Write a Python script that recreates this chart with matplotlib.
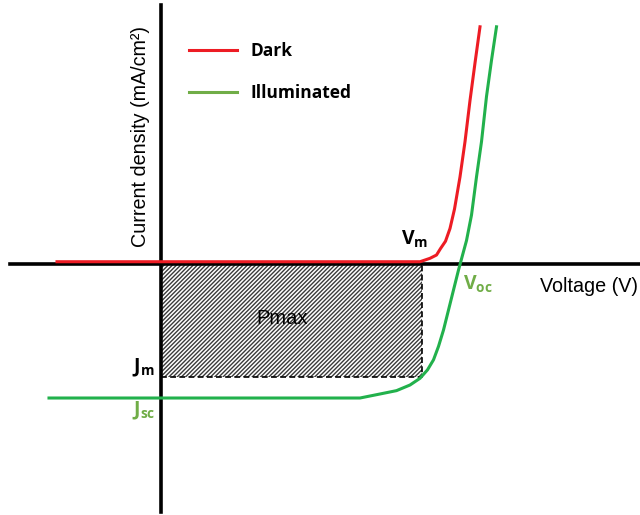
import numpy as np
import matplotlib
matplotlib.use("Agg")
import matplotlib.pyplot as plt

# J-V curves of a solar cell (voltage in V, current density in mA/cm2)
dark_v = [-0.208, 0.518, 0.538, 0.551, 0.559, 0.569, 0.578, 0.587, 0.598,
          0.608, 0.618, 0.628, 0.638]
dark_j = [0.34, 0.34, 0.85, 1.34, 2.3, 3.4, 5.3, 8.2, 13.0,
          18.25, 24.4, 30.0, 35.4]
illum_v = [-0.224, 0.398, 0.438, 0.471, 0.498, 0.518, 0.533, 0.545, 0.555, 0.565,
           0.575, 0.585, 0.595, 0.611, 0.621, 0.631, 0.641, 0.651, 0.661, 0.671]
illum_j = [-20.0, -20.0, -19.4, -18.9, -18.06, -17.06, -15.8, -14.3, -12.3, -9.85,
           -6.87, -3.88, -0.9, 3.5, 7.3, 13.0, 18.25, 25.0, 30.4, 35.4]
v_m = 0.522
j_m = -16.9
v_oc = 0.602
j_sc = -20.0

red = "#ed1c24"
green = "#22b14c"
lgreen = "#70ad47"

plt.rcParams["mathtext.fontset"] = "custom"
plt.rcParams["mathtext.bf"] = "Open Sans:bold"
plt.rcParams["mathtext.rm"] = "Open Sans"

fig = plt.figure(figsize=(6.4, 5.15), dpi=100)
ax = fig.add_axes([0, 0, 1, 1])
ax.set_xlim(-0.322, 0.958)
ax.set_ylim(-37.46, 39.4)
ax.axis("off")

# axes cross
ax.axhline(0, xmin=0.016, xmax=1, color="black", lw=2.6, zorder=2)
ax.axvline(0, ymin=0.006, ymax=0.99, color="black", lw=2.6, zorder=2)

# Pmax rectangle
ax.fill_between([0, v_m], j_m, 0, facecolor="white", edgecolor="#3a3a3a",
                hatch="////////", linewidth=0, zorder=1)
ax.plot([0, v_m, v_m], [j_m, j_m, 0], color="black", lw=1.2,
        linestyle=(0, (3.5, 2)), zorder=1.5)

ax.plot(dark_v, dark_j, color=red, lw=2.2, label="Dark", zorder=3)
ax.plot(illum_v, illum_j, color=green, lw=2.2, label="Illuminated", zorder=3)

# legend
leg = ax.legend(loc="upper left", bbox_to_anchor=(0.282, 0.935), frameon=False,
                handlelength=2.76, handletextpad=0.8, labelspacing=1.35,
                borderpad=0, prop={"family": "Open Sans", "weight": "bold", "size": 12.5})
leg.get_lines()[1].set_color(lgreen)

# labels
ax.text(v_m - 0.014, 3.7, r"$\mathbf{V}_\mathbf{m}$", fontsize=14, ha="center", va="center")
ax.text(v_oc + 0.032, -3.1, r"$\mathbf{V}_\mathbf{oc}$", fontsize=14, color=lgreen, ha="center", va="center")
ax.text(-0.036, j_m + 1.4, r"$\mathbf{J}_\mathbf{m}$", fontsize=14, ha="center", va="center")
ax.text(-0.034, j_sc - 2.0, r"$\mathbf{J}_\mathbf{sc}$", fontsize=14, color=lgreen, ha="center", va="center")
ax.text(0.242, -8.06, "Pmax", fontsize=14.5, family="Liberation Sans", ha="center", va="center")
ax.text(0.856, -3.4, "Voltage (V)", fontsize=14.2, family="Liberation Sans", ha="center", va="center")
ax.text(-0.042, 18.96, "Current density (mA/cm²)", fontsize=14.2, family="Liberation Sans",
        rotation=90, ha="center", va="center")

fig.savefig("out.png", dpi=100)
